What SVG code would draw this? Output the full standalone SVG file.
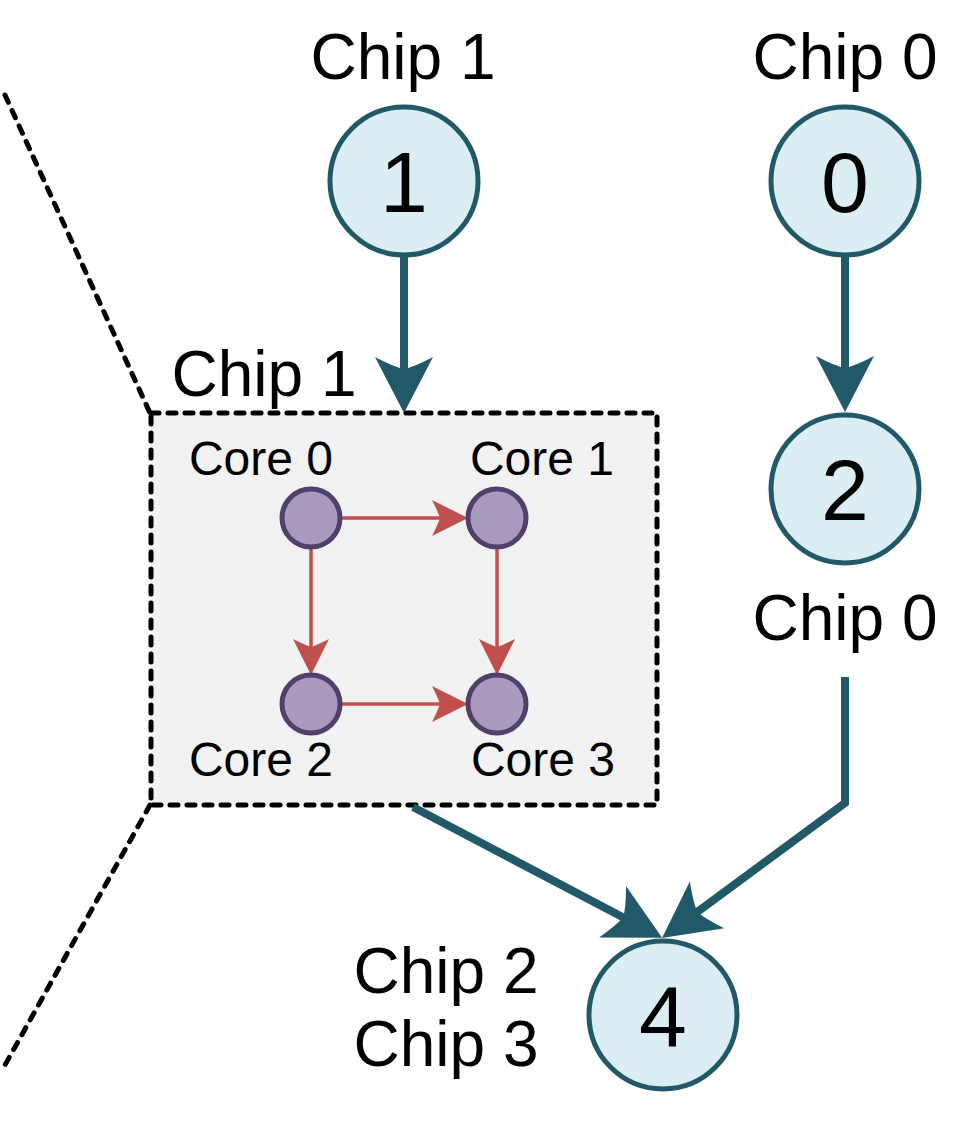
<svg xmlns="http://www.w3.org/2000/svg" width="975" height="1125" viewBox="0 0 975 1125">
<style>
text{font-family:"Liberation Sans",Arial,sans-serif;fill:#000;text-anchor:middle}
.lbl{font-size:64px}
.num{font-size:86px}
.core{font-size:48px}
.chip{fill:#daeef3;stroke:#215968;stroke-width:5}
.cn{fill:#a99bbf;stroke:#523f6b;stroke-width:5}
.tl{stroke:#215968;stroke-width:8;fill:none}
.rl{stroke:#c0504d;stroke-width:3.5;fill:none}
.dash{stroke:#000;stroke-width:5;fill:none;stroke-dasharray:8 9;stroke-linecap:round}
.box{fill:#f2f2f2}
</style>
<defs>
<marker id="ta" markerUnits="userSpaceOnUse" viewBox="0 -30 60 60" markerWidth="60" markerHeight="60" refX="16" refY="0" orient="auto">
<path d="M56,0 L0,-29 Q10,-10 12,0 Q10,10 0,29 Z" fill="#215968"/>
</marker>
<marker id="ra" markerUnits="userSpaceOnUse" viewBox="0 -20 40 40" markerWidth="40" markerHeight="40" refX="10" refY="0" orient="auto">
<path d="M36,0 L0,-18 Q6,-6 8,0 Q6,6 0,18 Z" fill="#c0504d"/>
</marker>
</defs>
<g id="boundary">
<line class="dash" x1="5" y1="95" x2="150" y2="413"/>
<line class="dash" x1="150" y1="805" x2="5" y2="1065"/>
</g>
<g id="chip1box">
<rect x="151" y="413" width="506" height="392" class="dash box"/>
<text class="lbl" x="264" y="396">Chip 1</text>
</g>
<g id="connectors">
<line class="tl" x1="404" y1="257" x2="404" y2="373" marker-end="url(#ta)"/>
<line class="tl" x1="845" y1="257" x2="845" y2="372" marker-end="url(#ta)"/>
<polyline class="tl" points="845,677 845,803 694.2,914.3" marker-end="url(#ta)"/>
<line class="tl" x1="413" y1="807" x2="626.7" y2="919.2" marker-end="url(#ta)"/>
<line class="rl" x1="340" y1="518" x2="442" y2="518" marker-end="url(#ra)"/>
<line class="rl" x1="340" y1="704" x2="442" y2="704" marker-end="url(#ra)"/>
<line class="rl" x1="311" y1="548" x2="311" y2="649" marker-end="url(#ra)"/>
<line class="rl" x1="497" y1="548" x2="497" y2="649" marker-end="url(#ra)"/>
</g>
<g id="node1">
<circle class="chip" cx="404" cy="181" r="74"/>
<text class="num" x="404" y="212">1</text>
<text class="lbl" x="403" y="79">Chip 1</text>
</g>
<g id="node0">
<circle class="chip" cx="845" cy="181" r="74"/>
<text class="num" x="845" y="212">0</text>
<text class="lbl" x="845" y="79">Chip 0</text>
</g>
<g id="node2">
<circle class="chip" cx="845" cy="489" r="74"/>
<text class="num" x="845" y="520">2</text>
<text class="lbl" x="845" y="640">Chip 0</text>
</g>
<g id="node4">
<circle class="chip" cx="663" cy="1015" r="74"/>
<text class="num" x="663" y="1046">4</text>
<text class="lbl" x="446" y="993">Chip 2</text>
<text class="lbl" x="446" y="1066">Chip 3</text>
</g>
<g id="core0">
<circle class="cn" cx="311" cy="518" r="29"/>
<text class="core" x="261" y="475">Core 0</text>
</g>
<g id="core1">
<circle class="cn" cx="497" cy="518" r="29"/>
<text class="core" x="542" y="475">Core 1</text>
</g>
<g id="core2">
<circle class="cn" cx="311" cy="704" r="29"/>
<text class="core" x="261" y="776">Core 2</text>
</g>
<g id="core3">
<circle class="cn" cx="497" cy="704" r="29"/>
<text class="core" x="543" y="776">Core 3</text>
</g>
</svg>
